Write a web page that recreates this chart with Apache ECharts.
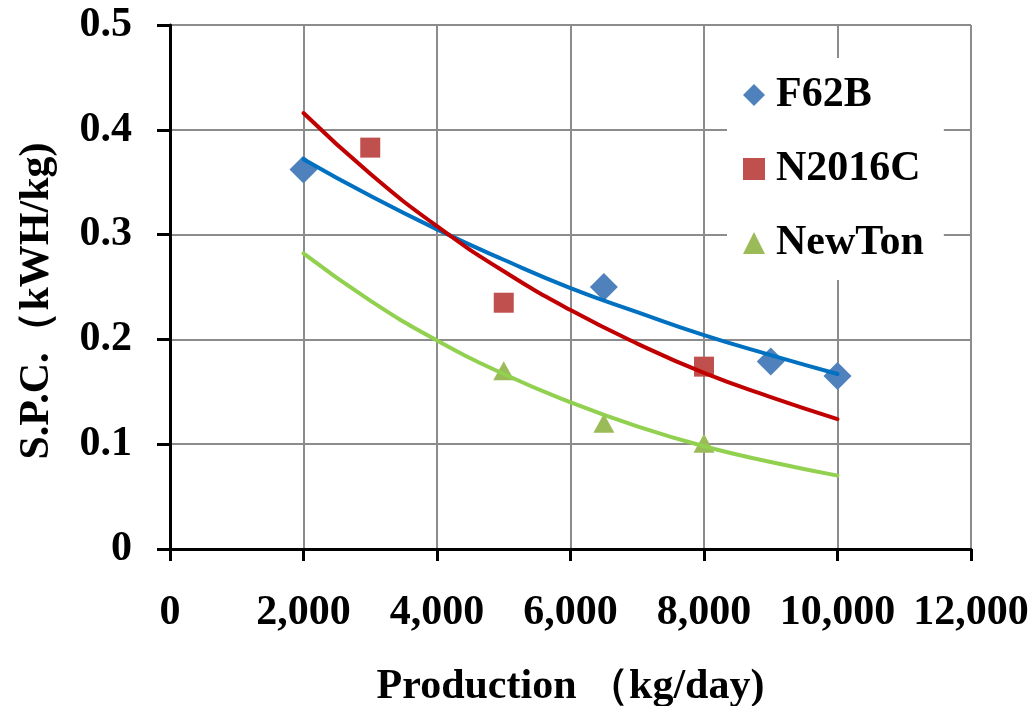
<!DOCTYPE html>
<html>
<head>
<meta charset="utf-8">
<script src="https://cdn.jsdelivr.net/npm/echarts@6/dist/echarts.min.js"></script>
<style>
  html, body { margin: 0; padding: 0; background: #fff; }
  #chart { width: 1032px; height: 706px; }
</style>
</head>
<body>
<div id="chart"></div>
<script>
// measured points
const f62bX = [2000, 6500, 9000, 10000];
const f62bY = [0.362, 0.25, 0.179, 0.165];
const n2016cX = [3000, 5000, 8000];
const n2016cY = [0.383, 0.235, 0.174];
const newtonX = [5000, 6500, 8000];
const newtonY = [0.17, 0.12, 0.101];

// trend lines
const trendX = [2000, 3000, 4000, 5000, 6000, 7000, 8000, 9000, 10000];
const f62bTrend = [0.372, 0.337, 0.305, 0.276, 0.249, 0.226, 0.204, 0.185, 0.167];
const n2016cTrend = [0.416, 0.358, 0.308, 0.265, 0.228, 0.196, 0.168, 0.145, 0.124];
const newtonTrend = [0.282, 0.237, 0.199, 0.167, 0.140, 0.117, 0.098, 0.083, 0.070];

const seriesNames = ['F62B', 'N2016C', 'NewTon'];

const font = "'Liberation Serif', 'Times New Roman', serif";
const pairs = (xs, ys) => xs.map((x, i) => [x, ys[i]]);

const scatter = (name, xs, ys, symbol, size, color) => ({
    name: name,
    type: 'scatter',
    data: pairs(xs, ys),
    symbol: symbol,
    symbolSize: size,
    itemStyle: { color: color, opacity: 1 },
    z: 2
});
const trend = (name, ys, color) => ({
    name: name + ' trend',
    type: 'line',
    data: pairs(trendX, ys),
    smooth: true,
    showSymbol: false,
    symbol: 'none',
    lineStyle: { color: color, width: 4, cap: 'round' },
    z: 3
});

let myChart = echarts.init(document.getElementById('chart'));
myChart.setOption({
    animation: false,
    backgroundColor: '#fff',
    textStyle: { fontFamily: font },
    grid: { left: 170, right: 61, top: 25, bottom: 157, containLabel: false, outerBoundsMode: 'none' },
    legend: {
        data: [
            { name: seriesNames[0], icon: 'diamond' },
            { name: seriesNames[1], icon: 'rect' },
            { name: seriesNames[2], icon: 'triangle' }
        ],
        orient: 'vertical',
        left: 727,
        top: 58,
        itemWidth: 22,
        itemHeight: 22,
        itemGap: 30,
        padding: [15, 20, 15, 16],
        backgroundColor: '#fff',
        textStyle: {
            fontFamily: font, fontWeight: 'bold', fontSize: 42, color: '#000',
            lineHeight: 44, padding: [0, 0, 0, 6]
        }
    },
    xAxis: {
        type: 'value',
        min: 0,
        max: 12000,
        interval: 2000,
        name: 'Production （kg/day)',
        nameLocation: 'middle',
        nameGap: 117,
        nameTextStyle: { fontFamily: font, fontWeight: 'bold', fontSize: 42, color: '#000' },
        axisLine: { lineStyle: { color: '#000', width: 3 } },
        axisTick: { show: true, length: 12, lineStyle: { color: '#000', width: 3 } },
        axisLabel: {
            margin: 43,
            color: '#000',
            fontFamily: font,
            fontWeight: 'bold',
            fontSize: 42,
            formatter: v => v.toLocaleString('en-US')
        },
        splitLine: { show: true, lineStyle: { color: '#8c8c8c', width: 2 } }
    },
    yAxis: {
        type: 'value',
        min: 0,
        max: 0.5,
        interval: 0.1,
        name: 'S.P.C.（kWH/kg)',
        nameLocation: 'middle',
        nameGap: 112,
        nameTextStyle: {
            fontFamily: font, fontWeight: 'bold', fontSize: 42, color: '#000',
            padding: [0, 28, 0, 0]
        },
        axisLine: { show: true, lineStyle: { color: '#000', width: 3 } },
        axisTick: { show: true, length: 13, lineStyle: { color: '#000', width: 3 } },
        axisLabel: {
            margin: 38,
            color: '#000',
            fontFamily: font,
            fontWeight: 'bold',
            fontSize: 42
        },
        splitLine: { show: true, lineStyle: { color: '#8c8c8c', width: 2 } }
    },
    series: [
        scatter(seriesNames[0], f62bX, f62bY, 'diamond', 28, '#4f81bd'),
        scatter(seriesNames[1], n2016cX, n2016cY, 'rect', 20, '#c0504d'),
        scatter(seriesNames[2], newtonX, newtonY, 'triangle', [21, 19], '#9bbb59'),
        trend(seriesNames[0], f62bTrend, '#0070c0'),
        trend(seriesNames[1], n2016cTrend, '#c00000'),
        trend(seriesNames[2], newtonTrend, '#92d050')
    ]
});
</script>
</body>
</html>
